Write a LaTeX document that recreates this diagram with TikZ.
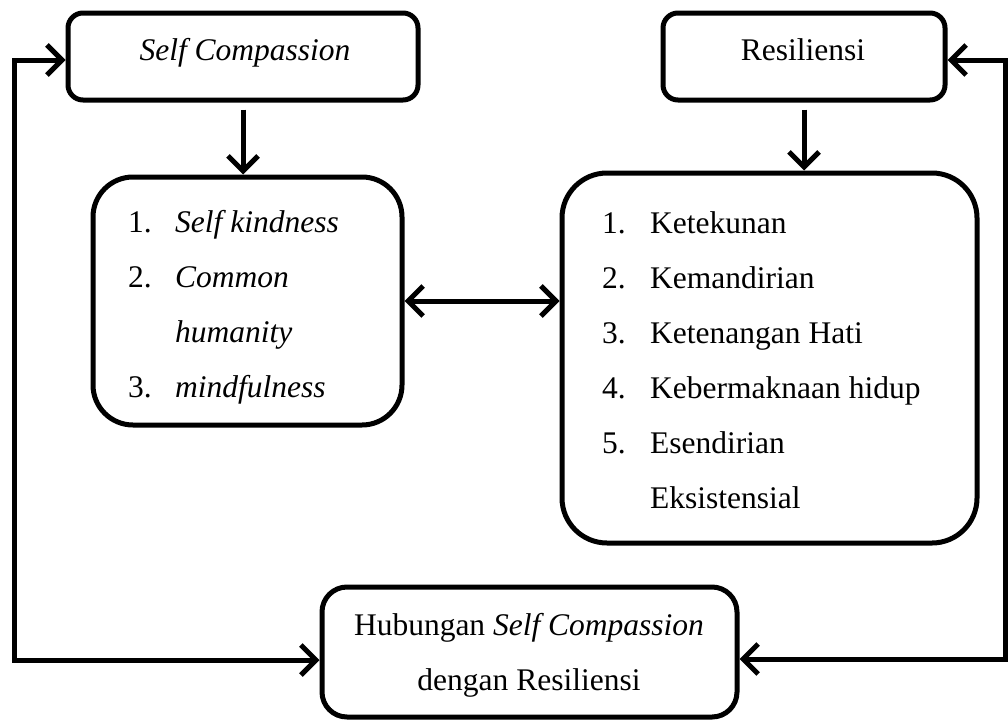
\documentclass[tikz,border=0pt]{standalone}
\usepackage{fontspec}
\setmainfont{Liberation Serif}
\usetikzlibrary{arrows.meta}
\tikzset{
  box/.style={draw, line width=5pt, rectangle, inner sep=0pt, fill=white},
  arr/.style={line width=5pt, -{Straight Barb[length=15pt,width=30pt]}},
  darr/.style={line width=5pt, {Straight Barb[length=15pt,width=30pt]}-{Straight Barb[length=15pt,width=30pt]}},
  txt/.style={inner sep=0pt, font=\fontsize{31.5}{38}\selectfont},
}
\begin{document}
\begin{tikzpicture}[x=1pt,y=-1pt]
\useasboundingbox (0,0) rectangle (1008,720);
% boxes
\node[box, rounded corners=15pt, minimum width=350pt, minimum height=87pt] (sc) at (243,56.5) {};
\node[box, rounded corners=15pt, minimum width=282pt, minimum height=87pt] (res) at (804,56.5) {};
\node[box, rounded corners=40pt, minimum width=309pt, minimum height=248pt] (lbox) at (247.5,301) {};
\node[box, rounded corners=45pt, minimum width=415pt, minimum height=370pt] (rbox) at (769.5,358) {};
\node[box, rounded corners=25pt, minimum width=415pt, minimum height=130pt] (bot) at (529.5,652) {};
% titles
\node[txt, anchor=base] (sct) at (245,60) {\textit{Self Compassion}};
\node[txt, anchor=base] (rest) at (803,60) {Resiliensi};
\node[txt, anchor=base] (bt1) at (529,635) {Hubungan \textit{Self Compassion}};
\node[txt, anchor=base] (bt2) at (529,690) {dengan Resiliensi};
% left list
\node[txt, anchor=base west] (ln1) at (128,232) {1.};
\node[txt, anchor=base west] (lt1) at (175,232) {\textit{Self kindness}};
\node[txt, anchor=base west] (ln2) at (128,287) {2.};
\node[txt, anchor=base west] (lt2) at (175,287) {\textit{Common}};
\node[txt, anchor=base west] (lt2b) at (175,342) {\textit{humanity}};
\node[txt, anchor=base west] (ln3) at (128,397) {3.};
\node[txt, anchor=base west] (lt3) at (175,397) {\textit{mindfulness}};
% right list
\node[txt, anchor=base west] (rn1) at (602,233) {1.};
\node[txt, anchor=base west] (rt1) at (650,233) {Ketekunan};
\node[txt, anchor=base west] (rn2) at (602,288) {2.};
\node[txt, anchor=base west] (rt2) at (650,288) {Kemandirian};
\node[txt, anchor=base west] (rn3) at (602,343) {3.};
\node[txt, anchor=base west] (rt3) at (650,343) {Ketenangan Hati};
\node[txt, anchor=base west] (rn4) at (602,398) {4.};
\node[txt, anchor=base west] (rt4) at (650,398) {Kebermaknaan hidup};
\node[txt, anchor=base west] (rn5) at (602,453) {5.};
\node[txt, anchor=base west] (rt5) at (650,453) {Esendirian};
\node[txt, anchor=base west] (rt5b) at (650,508) {Eksistensial};
% connectors
\draw[arr, shorten <=7pt] (sc.south) -- (sc.south |- lbox.north);
\draw[arr, shorten <=7pt] (res.south) -- (res.south |- rbox.north);
\draw[darr] (lbox.east) -- (lbox.east -| rbox.west);
\coordinate (lt) at (14,60);
\coordinate (lb) at (14,660);
\coordinate (rt) at (1005,60);
\coordinate (rb) at (1005,659);
\draw[darr, line join=miter] (sc.west |- lt) -- (lt) -- (lb) -- (bot.west |- lb);
\draw[darr, line join=miter] (res.east |- rt) -- (rt) -- (rb) -- (bot.east |- rb);
\end{tikzpicture}
\end{document}
